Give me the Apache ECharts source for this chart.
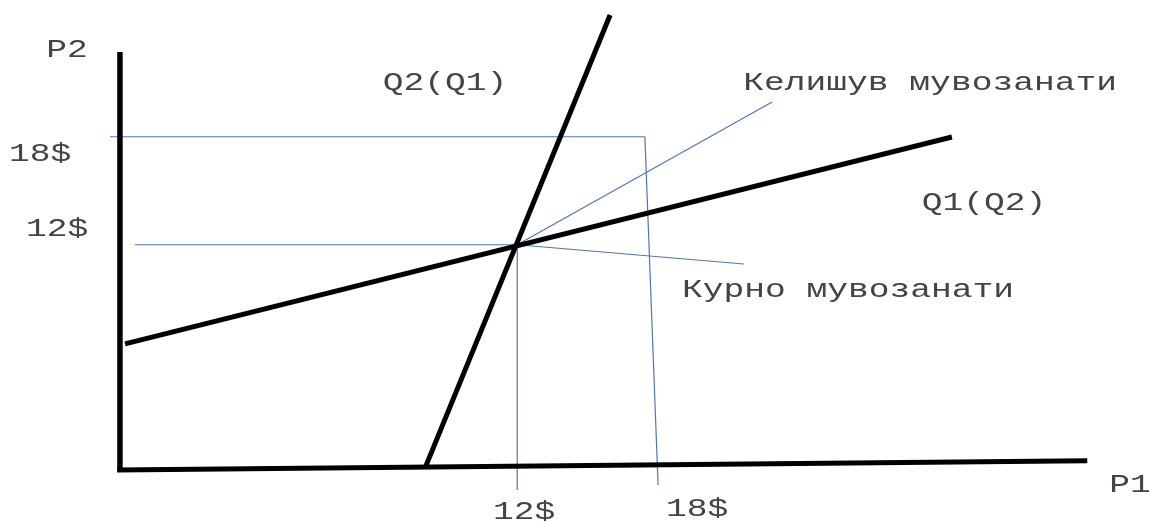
<!DOCTYPE html>
<html>
<head>
<meta charset="utf-8">
<script src="https://cdn.jsdelivr.net/npm/echarts@6/dist/echarts.min.js"></script>
<style>html,body{margin:0;padding:0;background:#fff}#c{width:1150px;height:521px}</style>
</head>
<body>
<div id="c"></div>
<script>
// Data (P1 on x, P2 on y, in $ units of the schematic)
const axisP2 = [[-6.05, -0.52], [-6.05, 22.71]];
const axisP1 = [[-6.18, -0.52], [37.9, 0.0]];
const reactionQ2 = [[7.81, -0.41], [16.22, 24.77]];   // Q2(Q1) steep line
const reactionQ1 = [[-5.82, 6.49], [31.75, 17.99]];   // Q1(Q2) shallow line
const guide18 = [[-6.5, 18], [17.8, 18], [18.4, -1.35]];
const guide12 = [[-5.37, 12], [12, 12], [12, -1.63]];
const pointerCollusion = [[12, 12], [23.58, 19.93]];
const pointerCournot = [[12, 12], [22.3, 10.93]];

const labelTexts = ['P2', '18$', '12$', '12$', '18$', 'P1', 'Q2(Q1)', 'Q1(Q2)', 'Келишув мувозанати', 'Курно мувозанати'];
const labelX = [-8.46, -9.68, -8.91, 12.31, 20.17, 39.84, 8.72, 33.21, 30.76, 27.03];
const labelY = [22.82, 17.04, 12.88, -2.85, -2.68, -1.35, 20.99, 14.32, 20.99, 9.49];

const chart = echarts.init(document.getElementById('c'));
const black = { color: '#000', width: 5 };
const blue = { color: '#5274b8', width: 1.2 };
function ln(data, style) {
  return { type: 'line', data: data, symbol: 'none', lineStyle: style, silent: true, animation: false };
}
chart.setOption({
  animation: false,
  backgroundColor: '#fff',
  grid: { left: 0, right: 0, top: 0, bottom: 0 },
  xAxis: { type: 'value', min: -11.5, max: 40.75, show: false },
  yAxis: { type: 'value', min: -3.35, max: 25.6, show: false },
  series: [
    ln(guide18, blue),
    ln(guide12, blue),
    ln(pointerCollusion, blue),
    ln(pointerCournot, blue),
    ln(axisP2, { color: '#000', width: 5.5 }),
    ln(axisP1, black),
    ln(reactionQ2, black),
    ln(reactionQ1, black)
  ]
});
const graphics = labelTexts.map(function (t, i) {
  const p = chart.convertToPixel({ gridIndex: 0 }, [labelX[i], labelY[i]]);
  return {
    type: 'text', x: p[0], y: p[1], scaleX: 1.33, silent: true,
    style: { text: t, font: '26px "Liberation Mono", "DejaVu Sans Mono", monospace', fill: '#444', align: 'center', verticalAlign: 'middle' }
  };
});
chart.setOption({ graphic: graphics });
</script>
</body>
</html>
